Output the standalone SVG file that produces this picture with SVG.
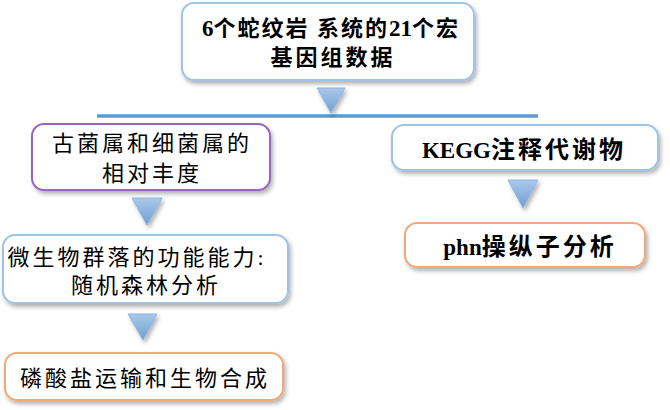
<svg xmlns="http://www.w3.org/2000/svg" width="670" height="410" viewBox="0 0 670 410">
<defs>
<filter id="sh" x="-10%" y="-10%" width="130%" height="140%">
<feDropShadow dx="2" dy="3" stdDeviation="2" flood-color="#000" flood-opacity="0.3"/>
</filter>
<linearGradient id="tg" x1="0" y1="0" x2="0" y2="1">
<stop offset="0" stop-color="#a9c9ea"/>
<stop offset="1" stop-color="#6f9fd3"/>
</linearGradient>
</defs>
<style>
.box{fill:#fff;stroke-width:2;filter:url(#sh)}
.blue{stroke:#9dc3e6}
.purple{stroke:#9a63c0}
.orange{stroke:#f4a878}
.t{font-family:"Liberation Serif","Noto Sans CJK SC",serif;font-size:22px;fill:#000;text-anchor:middle;letter-spacing:3px}
.b{font-weight:bold}
.lat{letter-spacing:0;font-size:23px}
.big{font-size:24px;letter-spacing:3px}
.tri{fill:url(#tg);stroke:#8db4df;stroke-width:1;filter:url(#sh)}
</style>
<g id="connectors">
<line x1="97" y1="116" x2="538" y2="116" stroke="#5b9bd5" stroke-width="3.5"/>
<polygon class="tri" points="317,88 345,88 331,113"/>
<polygon class="tri" points="132,198 162,198 147,225"/>
<polygon class="tri" points="128,314 157,314 143,340"/>
<polygon class="tri" points="508,180 538,180 523,208"/>
</g>
<g id="n_top">
<rect class="box blue" x="182" y="3" width="292" height="77" rx="12"/>
<text class="t b" x="331" y="36" style="letter-spacing:2px"><tspan class="lat">6</tspan>个蛇纹岩 系统的<tspan class="lat">21</tspan>个宏</text>
<text class="t b" x="333" y="65">基因组数据</text>
</g>
<g id="n_abund">
<rect class="box purple" x="32" y="124" width="238" height="66" rx="12"/>
<text class="t" x="152" y="151">古菌属和细菌属的</text>
<text class="t" x="152" y="181">相对丰度</text>
</g>
<g id="n_func">
<rect class="box blue" x="3" y="235" width="285" height="68" rx="12"/>
<text class="t" x="137" y="265">微生物群落的功能能力:</text>
<text class="t" x="146" y="293">随机森林分析</text>
</g>
<g id="n_phos">
<rect class="box orange" x="5" y="353" width="278" height="47" rx="12"/>
<text class="t" x="145" y="386">磷酸盐运输和生物合成</text>
</g>
<g id="n_kegg">
<rect class="box blue" x="392" y="125" width="266" height="45" rx="12"/>
<text class="t b big" x="524" y="158"><tspan class="lat">KEGG</tspan>注释代谢物</text>
</g>
<g id="n_phn">
<rect class="box orange" x="405" y="223" width="240" height="44" rx="12"/>
<text class="t b big" x="530" y="255"><tspan class="lat">phn</tspan>操纵子分析</text>
</g>
</svg>
